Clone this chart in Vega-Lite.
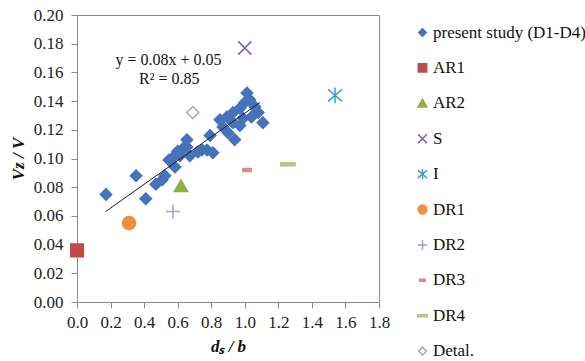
{
  "$schema": "https://vega.github.io/schema/vega-lite/v6.json",
  "width": 302,
  "height": 287,
  "autosize": "none",
  "padding": {"left": 77, "top": 15, "right": 206, "bottom": 59},
  "background": "white",
  "config": {
    "font": "Liberation Serif",
    "view": {"stroke": "#8a8a8a", "strokeWidth": 1},
    "axis": {
      "grid": false,
      "domainColor": "#8a8a8a",
      "tickColor": "#8a8a8a",
      "tickSize": 6,
      "labelFont": "Liberation Serif",
      "labelFontSize": 17,
      "labelColor": "#222222",
      "labelFlush": false,
      "labelOverlap": false,
      "titleFont": "Liberation Serif",
      "titleFontSize": 17,
      "titleFontWeight": "bold",
      "titleFontStyle": "italic",
      "titleColor": "#111111"
    },
    "legend": {
      "labelFont": "Liberation Serif",
      "labelFontSize": 17,
      "labelColor": "#111111",
      "symbolSize": 64,
      "symbolStrokeWidth": 1.5,
      "rowPadding": 17.4,
      "padding": 9,
      "offset": 26,
      "labelOffset": 2,
      "labelLimit": 300
    }
  },
  "datasets": {
    "pts": [
      {"x": 0.173, "y": 0.075, "series": "present study (D1-D4)"},
      {"x": 0.352, "y": 0.088, "series": "present study (D1-D4)"},
      {"x": 0.41, "y": 0.072, "series": "present study (D1-D4)"},
      {"x": 0.47, "y": 0.082, "series": "present study (D1-D4)"},
      {"x": 0.507, "y": 0.085, "series": "present study (D1-D4)"},
      {"x": 0.524, "y": 0.088, "series": "present study (D1-D4)"},
      {"x": 0.548, "y": 0.099, "series": "present study (D1-D4)"},
      {"x": 0.566, "y": 0.1, "series": "present study (D1-D4)"},
      {"x": 0.584, "y": 0.094, "series": "present study (D1-D4)"},
      {"x": 0.6, "y": 0.105, "series": "present study (D1-D4)"},
      {"x": 0.614, "y": 0.102, "series": "present study (D1-D4)"},
      {"x": 0.632, "y": 0.107, "series": "present study (D1-D4)"},
      {"x": 0.655, "y": 0.113, "series": "present study (D1-D4)"},
      {"x": 0.655, "y": 0.108, "series": "present study (D1-D4)"},
      {"x": 0.673, "y": 0.102, "series": "present study (D1-D4)"},
      {"x": 0.721, "y": 0.1045, "series": "present study (D1-D4)"},
      {"x": 0.745, "y": 0.106, "series": "present study (D1-D4)"},
      {"x": 0.775, "y": 0.106, "series": "present study (D1-D4)"},
      {"x": 0.793, "y": 0.116, "series": "present study (D1-D4)"},
      {"x": 0.81, "y": 0.104, "series": "present study (D1-D4)"},
      {"x": 0.852, "y": 0.127, "series": "present study (D1-D4)"},
      {"x": 0.87, "y": 0.122, "series": "present study (D1-D4)"},
      {"x": 0.894, "y": 0.129, "series": "present study (D1-D4)"},
      {"x": 0.9, "y": 0.118, "series": "present study (D1-D4)"},
      {"x": 0.93, "y": 0.132, "series": "present study (D1-D4)"},
      {"x": 0.93, "y": 0.125, "series": "present study (D1-D4)"},
      {"x": 0.94, "y": 0.113, "series": "present study (D1-D4)"},
      {"x": 0.971, "y": 0.135, "series": "present study (D1-D4)"},
      {"x": 0.971, "y": 0.123, "series": "present study (D1-D4)"},
      {"x": 0.99, "y": 0.128, "series": "present study (D1-D4)"},
      {"x": 1.0, "y": 0.139, "series": "present study (D1-D4)"},
      {"x": 1.013, "y": 0.1456, "series": "present study (D1-D4)"},
      {"x": 1.03, "y": 0.141, "series": "present study (D1-D4)"},
      {"x": 1.04, "y": 0.129, "series": "present study (D1-D4)"},
      {"x": 1.06, "y": 0.136, "series": "present study (D1-D4)"},
      {"x": 1.08, "y": 0.132, "series": "present study (D1-D4)"},
      {"x": 1.108, "y": 0.125, "series": "present study (D1-D4)"},
      {"x": 0.0, "y": 0.036, "series": "AR1"},
      {"x": 0.62, "y": 0.081, "series": "AR2"},
      {"x": 1.0, "y": 0.177, "series": "S"},
      {"x": 1.538, "y": 0.144, "series": "I"},
      {"x": 0.31, "y": 0.055, "series": "DR1"},
      {"x": 0.572, "y": 0.063, "series": "DR2"},
      {"x": 1.013, "y": 0.092, "series": "DR3"},
      {"x": 1.257, "y": 0.096, "series": "DR4"},
      {"x": 0.69, "y": 0.132, "series": "Detal."}
    ],
    "fit": [
      {"x": 0.17, "y": 0.063},
      {"x": 1.09, "y": 0.139}
    ],
    "eq": [
      {"x": 0.545, "y": 0.1685, "t": "y = 0.08x + 0.05"},
      {"x": 0.55, "y": 0.1555, "t": "R² = 0.85"}
    ]
  },
  "encoding": {
    "x": {
      "field": "x", "type": "quantitative",
      "scale": {"domain": [0, 1.8], "nice": false, "zero": false},
      "axis": {"values": [0, 0.2, 0.4, 0.6, 0.8, 1.0, 1.2, 1.4, 1.6, 1.8], "format": ".1f", "labelPadding": 6, "titlePadding": 8, "title": "dₛ / b"}
    },
    "y": {
      "field": "y", "type": "quantitative",
      "scale": {"domain": [0, 0.2], "nice": false, "zero": false},
      "axis": {"values": [0, 0.02, 0.04, 0.06, 0.08, 0.1, 0.12, 0.14, 0.16, 0.18, 0.2], "format": ".2f", "labelPadding": 8, "titlePadding": 6, "title": "Vz / V"}
    }
  },
  "layer": [
    {
      "data": {"name": "pts"},
      "mark": {"type": "point", "size": 144, "strokeWidth": 1.5, "opacity": 1},
      "encoding": {
        "shape": {
          "field": "series", "type": "nominal",
          "scale": {
            "domain": ["present study (D1-D4)", "AR1", "AR2", "S", "I", "DR1", "DR2", "DR3", "DR4", "Detal."],
            "range": [
              "M0,-0.95L0.95,0L0,0.95L-0.95,0Z",
              "M-1.05,-1.05L1.05,-1.05L1.05,1.05L-1.05,1.05Z",
              "M0,-1.0L1.1,0.95L-1.1,0.95Z",
              "M-1.1,-1.1L1.1,1.1M1.1,-1.1L-1.1,1.1",
              "M-1.15,-1.0L1.15,1.0M1.15,-1.0L-1.15,1.0M0,-1.3L0,1.3",
              "M1.1,0A1.1,1.1,0,1,1,-1.1,0A1.1,1.1,0,1,1,1.1,0Z",
              "M-1.2,0L1.2,0M0,-1.2L0,1.2",
              "M-0.7,-0.25L0.7,-0.25L0.7,0.25L-0.7,0.25Z",
              "M-1.2,-0.25L1.2,-0.25L1.2,0.25L-1.2,0.25Z",
              "M0,-1.0L1.0,0L0,1.0L-1.0,0Z"
            ]
          },
          "legend": {"title": null}
        },
        "fill": {
          "field": "series", "type": "nominal",
          "scale": {
            "domain": ["present study (D1-D4)", "AR1", "AR2", "S", "I", "DR1", "DR2", "DR3", "DR4", "Detal."],
            "range": ["#4573B9", "#BE4B48", "#8DB04C", "transparent", "transparent", "#F29040", "transparent", "#D98C8A", "#AFC985", "transparent"]
          },
          "legend": {"title": null}
        },
        "stroke": {
          "field": "series", "type": "nominal",
          "scale": {
            "domain": ["present study (D1-D4)", "AR1", "AR2", "S", "I", "DR1", "DR2", "DR3", "DR4", "Detal."],
            "range": ["#4573B9", "#BE4B48", "#8DB04C", "#8064A2", "#3FA3BB", "#F29040", "#8FA9D8", "#D98C8A", "#AFC985", "#B3A2C7"]
          },
          "legend": {"title": null}
        }
      }
    },
    {
      "data": {"name": "fit"},
      "mark": {"type": "line", "color": "#1a1a2e", "strokeWidth": 1},
      "encoding": {}
    },
    {
      "data": {"name": "eq"},
      "mark": {"type": "text", "fontSize": 16, "font": "Liberation Serif", "color": "#111111", "align": "center", "baseline": "middle"},
      "encoding": {"text": {"field": "t", "type": "nominal"}}
    }
  ]
}
